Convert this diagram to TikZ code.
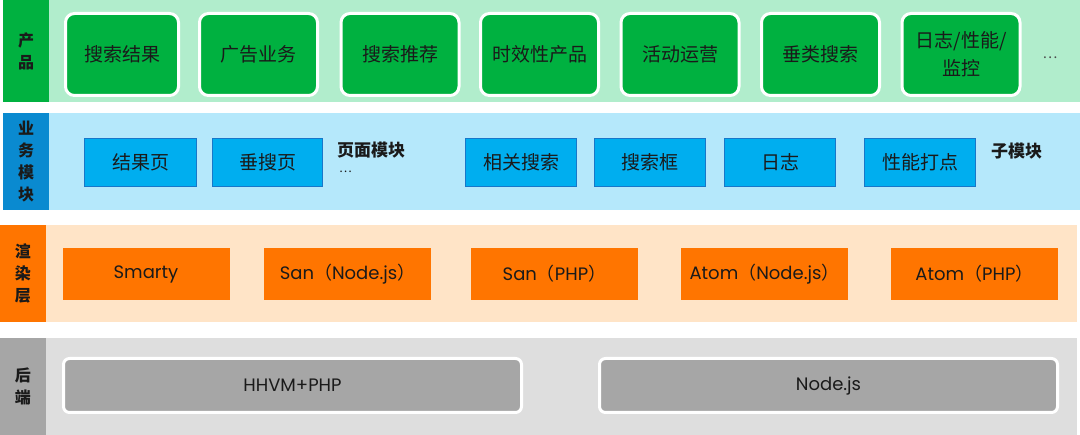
\documentclass[tikz,border=0pt]{standalone}
\usepackage{fontspec}
\setmainfont{Noto Sans CJK SC}
\newfontfamily\pop{Poppins}
\definecolor{gdark}{HTML}{00B140}
\definecolor{glight}{HTML}{B1EDCC}
\definecolor{bdark}{HTML}{0A8AD0}
\definecolor{blight}{HTML}{B5E8FB}
\definecolor{bboxc}{HTML}{00AEEF}
\definecolor{bborder}{HTML}{1877C9}
\definecolor{odark}{HTML}{FF7500}
\definecolor{olight}{HTML}{FFE4C7}
\definecolor{gydark}{HTML}{A6A6A6}
\definecolor{gylight}{HTML}{DEDEDE}
\definecolor{txt}{HTML}{1A1A1A}
\begin{document}
\begin{tikzpicture}[x=1pt,y=-1pt,
  every node/.style={inner sep=0pt,outer sep=0pt,text=txt},
  lab/.style={minimum width=46pt,align=center,font=\fontsize{16}{22}\selectfont\bfseries},
  pbox/.style={draw=white,line width=3pt,fill=gdark,rounded corners=9pt,minimum height=82pt,minimum width=118pt,align=center,font=\fontsize{19}{28}\selectfont},
  bbox/.style={draw=bborder,line width=1.2pt,fill=bboxc,minimum height=48pt,minimum width=111pt,font=\fontsize{19}{24}\selectfont},
  obox/.style={fill=odark,minimum height=52pt,minimum width=167pt,font=\fontsize{18}{24}\selectfont\pop},
  gbox/.style={draw=white,line width=3pt,fill=gydark,rounded corners=6pt,minimum height=54pt,minimum width=458pt,font=\fontsize{18}{24}\selectfont\pop},
  note/.style={font=\fontsize{17}{22}\selectfont\bfseries}
]
\useasboundingbox[fill=white] (0,0) rectangle (1080,435);
% bands
\fill[glight] (3,0) rectangle (1080,102);
\fill[blight] (3,113) rectangle (1080,210);
\fill[olight] (0,225) rectangle (1077,322);
\fill[gylight] (0,338) rectangle (1077,435);
% layer labels
\node[lab,fill=gdark,minimum height=102pt] (l1) at (26,51) {产\\品};
\node[lab,fill=bdark,minimum height=97pt] (l2) at (26,161.5) {业\\务\\模\\块};
\node[lab,fill=odark,minimum height=97pt] (l3) at (23,273.5) {渲\\染\\层};
\node[lab,fill=gydark,minimum height=97pt] (l4) at (23,386.5) {后\\端};
% products
\node[pbox,minimum width=113pt] (p1) at (122,54.5) {搜索结果};
\node[pbox] (p2) at (258.5,54.5) {广告业务};
\node[pbox] (p3) at (400,54.5) {搜索推荐};
\node[pbox] (p4) at (539.5,54.5) {时效性产品};
\node[pbox] (p5) at (680,54.5) {活动运营};
\node[pbox] (p6) at (820.5,54.5) {垂类搜索};
\node[pbox] (p7) at (961,54.5) {日志/性能/\\监控};
\node[font=\fontsize{14}{16}\selectfont,text=black!70] (pdots) at (1050,58) {…};
% modules
\node[bbox,minimum width=112pt] (m1) at (140.5,162.5) {结果页};
\node[bbox,minimum width=110pt] (m2) at (267.5,162.5) {垂搜页};
\node[note,anchor=west] (mpage) at (337,150) {页面模块};
\node[font=\fontsize{12}{14}\selectfont,anchor=west] (mdots) at (339,172) {…};
\node[bbox] (m3) at (521,162.5) {相关搜索};
\node[bbox] (m4) at (650,162.5) {搜索框};
\node[bbox] (m5) at (780,162.5) {日志};
\node[bbox] (m6) at (920,162.5) {性能打点};
\node[note,anchor=west] (msub) at (991,151) {子模块};
% render
\node[obox] (r1) at (146,274) {Smarty};
\node[obox] (r2) at (347.5,274) {San{\rmfamily（}Node.js{\rmfamily）}};
\node[obox] (r3) at (554.5,274) {San{\rmfamily（}PHP{\rmfamily）}};
\node[obox] (r4) at (764.5,274) {Atom{\rmfamily（}Node.js{\rmfamily）}};
\node[obox] (r5) at (974.5,274) {Atom{\rmfamily（}PHP{\rmfamily）}};
% backend
\node[gbox] (b1) at (292.5,385.5) {HHVM+PHP};
\node[gbox] (b2) at (828.5,385.5) {Node.js};
\end{tikzpicture}
\end{document}
